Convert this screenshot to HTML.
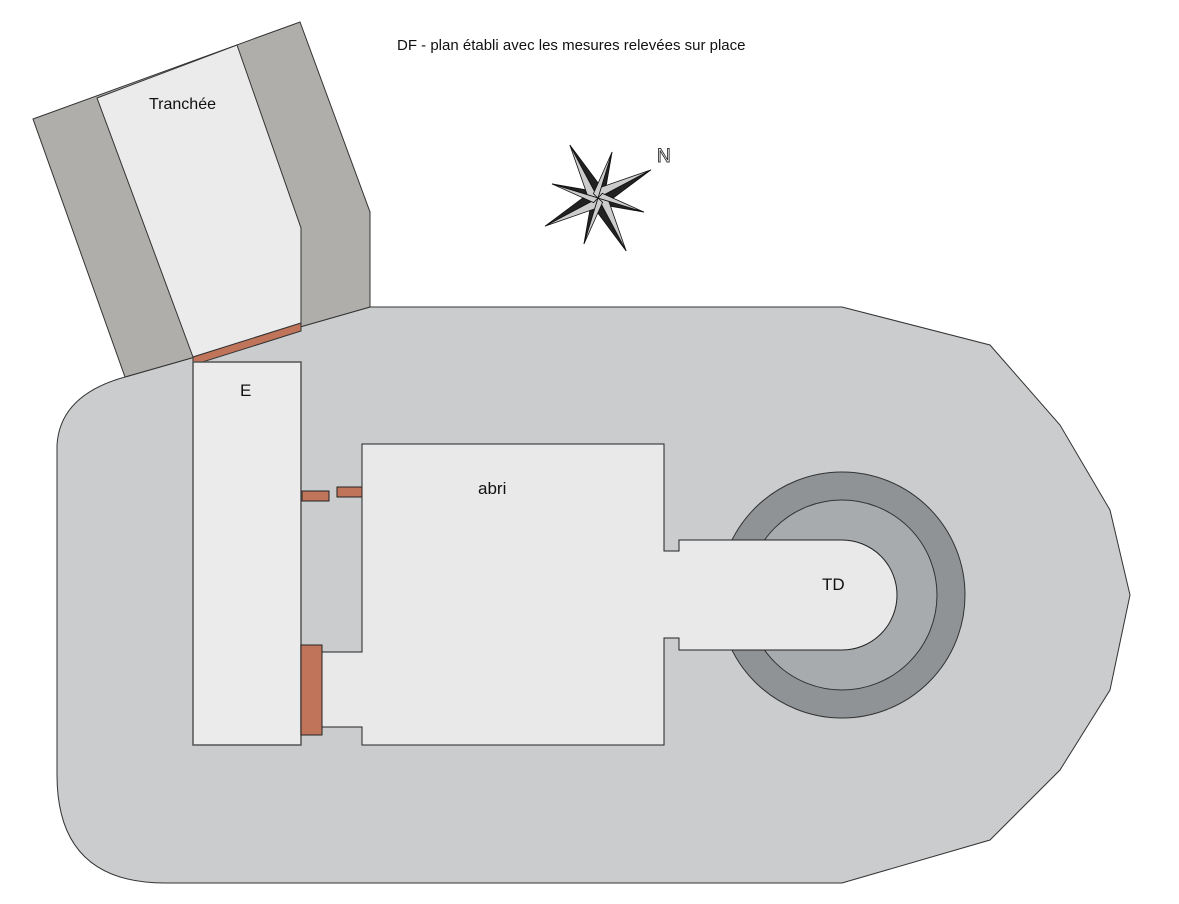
<!DOCTYPE html>
<html><head><meta charset="utf-8"><style>body{margin:0;background:#fff}svg{display:block}</style></head><body>
<svg width="1179" height="904" viewBox="0 0 1179 904" xmlns="http://www.w3.org/2000/svg" font-family="Liberation Sans, sans-serif">
<path d="M125,377 L370,307 L842,307 L990,345 L1060,425 L1110,510 L1130,595 L1110,690 L1060,770 L990,840 L842,883 L165,883 Q57,883 57,775 L57,445 Q60,395 125,377 Z" fill="#cbcccd" stroke="#333" stroke-width="1"/>
<path d="M33,119 L300,22 L370,212 L370,307 L125,377 Z" fill="#b0aeaa" stroke="#333" stroke-width="1"/>
<path d="M97,98 L237,45 L301,228 L301,323 L193,357 Z" fill="#ebebeb" stroke="#333" stroke-width="1"/>
<polygon points="193,357 301,323 301,331 193,365" fill="#c0755a" stroke="#333" stroke-width="1"/>
<rect x="193" y="362" width="108" height="383" fill="#ebebeb" stroke="#555" stroke-width="1.5"/>
<circle cx="842" cy="595" r="123" fill="#8f9396" stroke="#333"/>
<circle cx="842" cy="595" r="95" fill="#a7abae" stroke="#333"/>
<path d="M362,444 L664,444 L664,551 L679,551 L679,540 L842,540 A55,55 0 0 1 842,650 L679,650 L679,638 L664,638 L664,745 L362,745 L362,727 L322,727 L322,652 L362,652 Z" fill="#e9e9e9" stroke="#222" stroke-width="1"/>
<rect x="301" y="645" width="21" height="90" fill="#c0755a" stroke="#222"/>
<rect x="302" y="491" width="27" height="10" fill="#c0755a" stroke="#222"/>
<rect x="337" y="487" width="25" height="10" fill="#c0755a" stroke="#222"/>
<g transform="translate(598,198) rotate(-28)">
<g fill="#222" stroke="#111" stroke-width="0.8">
<polygon points="0,-60 8,-8 0,0"/><polygon points="60,0 8,8 0,0"/><polygon points="0,60 -8,8 0,0"/><polygon points="-60,0 -8,-8 0,0"/>
<polygon points="34,-34 6,2 0,0"/><polygon points="34,34 -2,6 0,0"/><polygon points="-34,34 -6,-2 0,0"/><polygon points="-34,-34 2,-6 0,0"/>
</g>
<g fill="#ccc" stroke="#111" stroke-width="0.8">
<polygon points="0,-60 -8,-8 0,0"/><polygon points="60,0 8,-8 0,0"/><polygon points="0,60 8,8 0,0"/><polygon points="-60,0 -8,8 0,0"/>
<polygon points="34,-34 -2,-6 0,0"/><polygon points="34,34 6,-2 0,0"/><polygon points="-34,34 2,6 0,0"/><polygon points="-34,-34 -6,2 0,0"/>
</g>
</g>
<text x="657" y="162" font-size="19" fill="#fff" stroke="#333" stroke-width="0.9">N</text>
<text x="397" y="50" font-size="15" fill="#111">DF - plan établi avec les mesures relevées sur place</text>
<text x="149" y="109" font-size="16" fill="#111">Tranchée</text>
<text x="240" y="396" font-size="17" fill="#111">E</text>
<text x="478" y="494" font-size="17" fill="#111">abri</text>
<text x="822" y="590" font-size="17" fill="#111">TD</text>
</svg>
</body></html>
